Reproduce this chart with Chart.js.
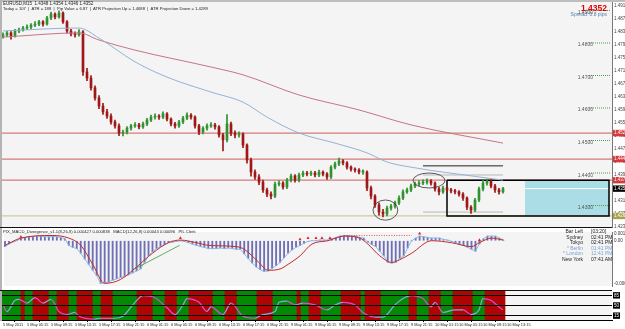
<!DOCTYPE html>
<html><head><meta charset="utf-8">
<script src="https://cdn.jsdelivr.net/npm/chart.js@4.4.1/dist/chart.umd.min.js"></script>
<style>
html,body{margin:0;padding:0;background:#fff;}
#wrap{position:relative;width:625px;height:329px;overflow:hidden;font-family:"Liberation Sans",Arial,sans-serif;}
canvas{position:absolute;left:0;}
.t{position:absolute;white-space:nowrap;line-height:1;color:#222;}
.bar{position:absolute;}
</style></head><body>
<div id="wrap">
<canvas id="cMain" width="625" height="233" style="top:0"></canvas>
<canvas id="cMacd" width="625" height="62" style="top:228px"></canvas>
<canvas id="cOsc" width="625" height="39" style="top:290px"></canvas>
<div class="bar" style="left:0;top:0;width:625px;height:2px;background:#bdbdbd"></div>
<div class="bar" style="left:0;top:0;width:2px;height:321px;background:#b4b4b4"></div>
<div class="bar" style="left:0;top:227px;width:612px;height:1px;background:#111"></div>
<div class="bar" style="left:0;top:290px;width:612px;height:1px;background:#111"></div>
<div class="t" style="left:3px;top:2px;font-size:4.5px">EURUSD,M15&nbsp; 1.4348 1.4354 1.4346 1.4352</div>
<div class="t" style="left:3px;top:6.5px;font-size:4.2px">Today = 107 &nbsp;|&nbsp; ATR = 188 &nbsp;|&nbsp; Pip Value = 6.87 &nbsp;|&nbsp; ATR Projection Up = 1.4688 &nbsp;|&nbsp; ATR Projection Down = 1.4289</div>
<div class="t" style="right:18px;top:4px;font-size:8.5px;font-weight:bold;color:#e00000">1.4352</div>
<div class="t" style="right:18px;top:11.5px;font-size:5px;color:#4f7fb0">Spread: 0.8 pips</div>
<div class="t" style="left:3px;top:229.5px;font-size:4.2px">PIX_MACD_Divergence_v1.1(8,26,9) 0.000427 0.000838 &nbsp; MACD(12,26,9) 0.00043 0.00096 &nbsp; PIL Clerk</div>
<div class="t" style="right:42px;top:229px;font-size:5px;text-align:right;line-height:5.5px">Bar Left<br>Sydney<br>Tokyo<br><span style="color:#7da3cf">* Berlin</span><br><span style="color:#7da3cf">* London</span><br>New York</div>
<div class="t" style="left:591px;top:229px;font-size:5px;line-height:5.5px">[03:20]<br>02:41 PM<br>02:41 PM<br><span style="color:#7da3cf">01:41 PM</span><br><span style="color:#7da3cf">12:41 PM</span><br>07:41 AM</div>
</div>
<script>
// ---------- data ----------
const timeLabels=["5 May 2011","5 May 05:15","5 May 09:15","5 May 13:15","5 May 17:15","5 May 21:15","6 May 01:15","6 May 05:15","6 May 09:15","6 May 13:15","6 May 17:15","6 May 21:15","9 May 01:15","9 May 05:15","9 May 09:15","9 May 13:15","9 May 17:15","9 May 21:15","10 May 01:15","10 May 05:15","10 May 09:15","10 May 13:15"];
const labelStep=6;
const openP=[1.4820,1.4825,1.4831,1.4822,1.4837,1.4840,1.4846,1.4849,1.4855,1.4858,
1.4865,1.4858,1.4877,1.4889,1.4880,1.4892,1.4865,1.4837,1.4828,1.4825,
1.4834,1.4711,1.4692,1.4662,1.4631,1.4606,1.4588,1.4575,1.4557,1.4545,
1.4523,1.4526,1.4538,1.4545,1.4548,1.4542,1.4551,1.4563,1.4572,1.4575,
1.4572,1.4582,1.4566,1.4551,1.4545,1.4557,1.4569,1.4578,1.4572,1.4545,
1.4526,1.4538,1.4545,1.4548,1.4542,1.4517,1.4502,1.4551,1.4523,1.4517,
1.4520,1.4486,1.4440,1.4403,1.4388,1.4372,1.4348,1.4335,1.4329,1.4366,
1.4369,1.4357,1.4378,1.4391,1.4378,1.4394,1.4400,1.4397,1.4400,1.4394,
1.4403,1.4397,1.4388,1.4418,1.4428,1.4437,1.4431,1.4418,1.4412,1.4409,
1.4403,1.4403,1.4354,1.4329,1.4302,1.4280,1.4274,1.4292,1.4298,1.4308,
1.4323,1.4342,1.4348,1.4360,1.4366,1.4369,1.4372,1.4375,1.4369,1.4351,
1.4342,1.4354,1.4348,1.4345,1.4342,1.4335,1.4323,1.4295,1.4286,1.4317,
1.4351,1.4369,1.4375,1.4360,1.4348,1.4342];
const highP=[1.4831,1.4836,1.4835,1.4842,1.4846,1.4851,1.4856,1.4860,1.4866,1.4870,
1.4869,1.4882,1.4895,1.4893,1.4899,1.4896,1.4869,1.4842,1.4834,1.4841,
1.4838,1.4722,1.4700,1.4668,1.4638,1.4614,1.4596,1.4582,1.4563,1.4551,
1.4532,1.4543,1.4550,1.4555,1.4553,1.4557,1.4568,1.4578,1.4582,1.4580,
1.4588,1.4586,1.4570,1.4556,1.4562,1.4574,1.4585,1.4583,1.4576,1.4550,
1.4543,1.4551,1.4555,1.4553,1.4546,1.4522,1.4580,1.4557,1.4530,1.4527,
1.4524,1.4490,1.4446,1.4410,1.4395,1.4378,1.4354,1.4342,1.4372,1.4376,
1.4374,1.4384,1.4397,1.4395,1.4400,1.4406,1.4405,1.4406,1.4405,1.4409,
1.4407,1.4401,1.4423,1.4434,1.4446,1.4441,1.4435,1.4422,1.4416,1.4414,
1.4410,1.4407,1.4360,1.4334,1.4308,1.4288,1.4298,1.4304,1.4314,1.4330,
1.4348,1.4354,1.4366,1.4372,1.4376,1.4379,1.4382,1.4380,1.4373,1.4356,
1.4360,1.4358,1.4353,1.4350,1.4346,1.4340,1.4327,1.4300,1.4322,1.4357,
1.4378,1.4381,1.4380,1.4365,1.4353,1.4356];
const lowP=[1.4815,1.4819,1.4812,1.4818,1.4832,1.4836,1.4841,1.4844,1.4850,1.4853,
1.4852,1.4855,1.4872,1.4874,1.4876,1.4860,1.4831,1.4822,1.4818,1.4821,
1.4700,1.4684,1.4655,1.4624,1.4598,1.4580,1.4568,1.4550,1.4538,1.4515,
1.4514,1.4520,1.4532,1.4540,1.4536,1.4537,1.4546,1.4558,1.4566,1.4565,
1.4567,1.4560,1.4545,1.4538,1.4540,1.4552,1.4564,1.4566,1.4538,1.4518,
1.4520,1.4532,1.4540,1.4535,1.4510,1.4468,1.4496,1.4515,1.4508,1.4510,
1.4478,1.4430,1.4390,1.4380,1.4364,1.4340,1.4327,1.4320,1.4324,1.4360,
1.4350,1.4352,1.4373,1.4372,1.4373,1.4389,1.4391,1.4392,1.4388,1.4389,
1.4391,1.4380,1.4383,1.4413,1.4423,1.4425,1.4412,1.4406,1.4403,1.4397,
1.4396,1.4346,1.4320,1.4294,1.4270,1.4265,1.4268,1.4286,1.4292,1.4303,
1.4318,1.4337,1.4343,1.4355,1.4361,1.4364,1.4366,1.4363,1.4344,1.4333,
1.4337,1.4342,1.4339,1.4336,1.4329,1.4316,1.4287,1.4276,1.4281,1.4312,
1.4345,1.4363,1.4354,1.4340,1.4335,1.4338];
const closeP=[1.4825,1.4831,1.4822,1.4837,1.4840,1.4846,1.4849,1.4855,1.4858,1.4865,
1.4858,1.4877,1.4889,1.4880,1.4892,1.4865,1.4837,1.4828,1.4825,1.4834,
1.4711,1.4692,1.4662,1.4631,1.4606,1.4588,1.4575,1.4557,1.4545,1.4523,
1.4526,1.4538,1.4545,1.4548,1.4542,1.4551,1.4563,1.4572,1.4575,1.4572,
1.4582,1.4566,1.4551,1.4545,1.4557,1.4569,1.4578,1.4572,1.4545,1.4526,
1.4538,1.4545,1.4548,1.4542,1.4517,1.4502,1.4551,1.4523,1.4517,1.4520,
1.4486,1.4440,1.4403,1.4388,1.4372,1.4348,1.4335,1.4329,1.4366,1.4369,
1.4357,1.4378,1.4391,1.4378,1.4394,1.4400,1.4397,1.4400,1.4394,1.4403,
1.4397,1.4388,1.4418,1.4428,1.4437,1.4431,1.4418,1.4412,1.4409,1.4403,
1.4403,1.4354,1.4329,1.4302,1.4280,1.4274,1.4292,1.4298,1.4308,1.4323,
1.4342,1.4348,1.4360,1.4366,1.4369,1.4372,1.4375,1.4369,1.4351,1.4342,
1.4354,1.4348,1.4345,1.4342,1.4335,1.4323,1.4295,1.4286,1.4317,1.4351,
1.4369,1.4375,1.4360,1.4348,1.4342,1.4352];
const maBlue=[[0,1.4837],[19,1.4846],[24,1.4815],[33,1.4742],[41,1.4695],[52,1.4649],[60,1.4618],[66,1.4572],[74,1.4523],[83,1.4492],[91,1.4462],[96,1.4434],[102,1.4418],[119,1.4388],[125,1.4378]];
const maRed=[[0,1.4818],[19,1.4831],[24,1.4809],[33,1.4778],[52,1.4726],[60,1.4702],[74,1.4640],[89,1.4594],[102,1.4548],[125,1.4492]];
const priceTicks=[1.4915,1.4875,1.4835,1.4795,1.4755,1.4715,1.4675,1.4635,1.4595,1.4555,1.4515,1.4475,1.4435,1.4395,1.4315,1.4275,1.4235];
const roundLevels=[1.4900,1.4800,1.4700,1.4600,1.4500,1.4400,1.4300];
const resistLevels=[1.4523,1.4443,1.4378];
const supportLevel=1.4268;
const lastPrice=1.4352;
const boxBars=[111,151.5], cyanStartBar=130.5;
const markLines=[{from:105,to:125,price:1.4422,dark:true},{from:105,to:125,price:1.4394,dark:false},{from:105,to:125,price:1.4280,dark:false}];
const ellipses=[{bar:95.6,price:1.4286,barRadius:3.1,priceRadius:0.0031},{bar:106.5,price:1.4377,barRadius:4,priceRadius:0.0023}];

const macdHist=[-0.0009,-0.0005,-0.0002,0.0000,0.0004,0.0005,0.0006,0.0006,0.0007,0.0007,
0.0006,0.0006,0.0007,0.0006,0.0005,0.0003,-0.0007,-0.0010,-0.0012,-0.0019,
-0.0028,-0.0036,-0.0045,-0.0053,-0.0065,-0.0064,-0.0063,-0.0060,-0.0058,-0.0056,
-0.0054,-0.0052,-0.0049,-0.0046,-0.0043,-0.0033,-0.0023,-0.0017,-0.0012,-0.0009,
-0.0006,-0.0003,-0.0002,-0.0001,0.0000,-0.0001,-0.0003,-0.0005,-0.0007,-0.0009,
-0.0010,-0.0012,-0.0012,-0.0012,-0.0011,-0.0012,-0.0011,-0.0012,-0.0013,-0.0013,
-0.0020,-0.0027,-0.0034,-0.0040,-0.0044,-0.0047,-0.0046,-0.0042,-0.0038,-0.0033,
-0.0026,-0.0019,-0.0014,-0.0010,-0.0007,-0.0004,-0.0001,0.0000,0.0000,0.0001,
0.0001,0.0001,0.0003,0.0005,0.0007,0.0008,0.0008,0.0007,0.0007,0.0005,
0.0004,-0.0002,-0.0006,-0.0009,-0.0016,-0.0023,-0.0033,-0.0034,-0.0033,-0.0027,
-0.0023,-0.0011,0.0000,0.0004,0.0007,0.0006,0.0005,0.0004,0.0004,0.0004,
0.0002,0.0001,-0.0001,-0.0003,-0.0005,-0.0007,-0.0010,-0.0013,-0.0016,-0.0005,
0.0003,0.0007,0.0007,0.0007,0.0004,0.0001];
const macdSignal=[[0,-0.0007],[4,0.0004],[12,0.0008],[16,0.0004],[19,-0.0007],[22,-0.0036],[25,-0.0065],[29,-0.0059],[33,-0.0040],[37,-0.0019],[41,-0.0003],[44,0.0001],[48,-0.0003],[51,-0.0007],[58,-0.0009],[60,-0.0013],[63.5,-0.0032],[66,-0.0045],[69,-0.0043],[71,-0.0036],[74,-0.0023],[77,-0.0005],[81,0.0000],[85,0.0007],[89,0.0004],[91,-0.0005],[94,-0.0023],[97,-0.0033],[99,-0.0029],[102,-0.0019],[107,0.0000],[112,-0.0003],[117,-0.0009],[119,-0.0003],[122,0.0004],[125,0.0001]];
const macdArrows=[[4,0.0006],[44,0.0004],[74,0.0002],[76,0.0004],[78,0.0004],[79.5,0.0004],[81.5,0.0004],[104,0.0011],[119,0.0001]];
const divergenceLine=[[32.5,-0.0043],[43.8,-0.0007]];
const divergenceLevel=[[85,0.0008],[102,0.0008]];
const macdTicks=[0.0011,0,-0.0065];

const bandState=[1,1,1,1,1, 0, 1,1, 0,0,0,0, 1,1, 0,0,0, 1,1, 0,0,0,0, 1,1, 0,0,0,
1,1,1,1,1,1, 0,0,0,0, 1,1,1, 0,0,0, 1,1,1, 0,0,0,0,0,0, 1,1,1, 0,0,0, 1,1,1,1,1,
0,0,0,0, 1,1,1,1,1,1, 0, 1,1, 0,0,0, 1,1,1,1,1, 0,0,0,0,0, 1, 0,0,0,0,
1,1,1,1,1,1,1, 0,0, 1,1,1, 0,0,0, 1,1,1, 0,0,0,0,0, 1,1,1, 0,0,0,0,0];
const oscPoints=[[0,52],[1,29],[3,68],[4,71],[6,58],[8,77],[10,58],[12,71],[14,29],[16,19],[18,26],[19,13],[23,3],[24,6],[28,6],[30,13],[33,61],[35,84],[38,77],[41,42],[43,19],[45,52],[46,74],[49,61],[51,30],[52,45],[55,19],[57,58],[60,13],[63,6],[65,19],[68,29],[69,61],[71,65],[73,52],[75,58],[78,52],[81,35],[83,52],[85,61],[88,52],[90,26],[93,10],[95,10],[98,52],[100,74],[102,84],[105,74],[107,45],[108,61],[110,26],[113,35],[115,35],[117,19],[119,35],[120,74],[122,68],[124,45],[125,35]];
const oscLevels=[85,50,15];

// ---------- helpers ----------
const xMin=-0.25, xMax=152.25;
const BULL='#2f922f', BEAR='#9e1818';
const bars=closeP.map((_,i)=>i);
const pts=a=>a.map(p=>({x:p[0],y:p[1]}));
function mkLine(p,color,w,extra){return Object.assign({type:'line',data:pts(p),borderColor:color,borderWidth:w,pointRadius:0,fill:false,tension:0},extra||{});}
function fixW(s){s.width=13;s.paddingTop=0;s.paddingBottom=0;}
const bgPlugin={id:'bg',beforeDraw(ch){const {ctx,chartArea:a}=ch;ctx.save();ctx.fillStyle='#f4f4f4';ctx.fillRect(a.left,a.top,a.right-a.left,a.bottom-a.top);ctx.restore();}};
const ellipsePlugin={id:'ell',afterDatasetsDraw(ch){const {ctx,scales:{x,y}}=ch;ctx.save();ctx.strokeStyle='#333';ctx.lineWidth=0.8;
 ellipses.forEach(e=>{const cx=x.getPixelForValue(e.bar),cy=y.getPixelForValue(e.price);const rx=Math.abs(x.getPixelForValue(e.bar+e.barRadius)-cx);const ry=Math.abs(y.getPixelForValue(e.price+e.priceRadius)-cy);ctx.beginPath();ctx.ellipse(cx,cy,rx,ry,0,0,Math.PI*2);ctx.stroke();});ctx.restore();}};
function levelColor(v){if(resistLevels.includes(v))return '#d43a3a';if(v===lastPrice)return '#000000';if(v===supportLevel)return '#a8a24c';return null;}
const candleColor=c=>closeP[c.dataIndex]>=openP[c.dataIndex]?BULL:BEAR;
const common={responsive:false,animation:false,devicePixelRatio:1,events:[],plugins:{legend:{display:false},tooltip:{enabled:false}}};

// ---------- main price chart ----------
const mainSets=[
 {type:'bar',data:bars.map(i=>({x:i,y:[lowP[i],highP[i]]})),backgroundColor:candleColor,barThickness:1,grouped:false,order:2},
 {type:'bar',data:bars.map(i=>({x:i,y:[openP[i],closeP[i]]})),backgroundColor:candleColor,barThickness:2,minBarLength:1,grouped:false,order:1},
 mkLine(maBlue,'#93b4d6',1,{cubicInterpolationMode:'monotone',order:0}),
 mkLine(maRed,'#c77585',1,{cubicInterpolationMode:'monotone',order:0}),
 ...resistLevels.map(v=>mkLine([[xMin,v],[xMax,v]],'#d67a7a',1.2,{order:6})),
 mkLine([[xMin,supportLevel],[xMax,supportLevel]],'#cfcc9a',1.3,{order:6}),
 mkLine([[cyanStartBar,resistLevels[2]],[boxBars[1],resistLevels[2]]],'rgba(0,0,0,0)',0,{fill:{value:supportLevel},backgroundColor:'#aadde5',order:9}),
 mkLine([[cyanStartBar,lastPrice],[boxBars[1],lastPrice]],'#ffffff',1,{order:8}),
 mkLine([[boxBars[0],resistLevels[2]],[boxBars[1],resistLevels[2]],[boxBars[1],supportLevel],[boxBars[0],supportLevel],[boxBars[0],resistLevels[2]]],'#000000',1.5,{order:3}),
 ...markLines.map(m=>mkLine([[m.from,m.price],[m.to,m.price]],m.dark?'#222222':'#b8b8b8',1,{order:5})),
 ...roundLevels.map(v=>mkLine([[146.5,v],[151.9,v]],'#4f9f4f',1,{borderDash:[1,1],order:5}))
];
const chartA=new Chart(document.getElementById('cMain'),{type:'bar',data:{datasets:mainSets},plugins:[bgPlugin,ellipsePlugin],
 options:Object.assign({},common,{layout:{padding:{left:2,top:2,right:0,bottom:6}},
 scales:{x:{type:'linear',min:xMin,max:xMax,display:false,offset:false},
  y:{position:'right',min:1.4234,max:1.4926,afterFit:fixW,
   afterBuildTicks:s=>{s.ticks=priceTicks.concat(resistLevels,[lastPrice,supportLevel]).map(v=>({value:v}));},
   ticks:{autoSkip:false,padding:1,font:{size:4.5,family:'Liberation Sans'},callback:v=>Number(v).toFixed(4),
    color:c=>levelColor(c.tick&&c.tick.value)?'#ffffff':'#444',showLabelBackdrop:true,
    backdropColor:c=>levelColor(c.tick&&c.tick.value)||'rgba(0,0,0,0)',backdropPadding:{top:0.5,bottom:0.5,left:1,right:1}},
   grid:{drawOnChartArea:false,tickLength:1,color:'#777'},border:{color:'#777'}}}})});
const wrap=document.getElementById('wrap');
roundLevels.forEach(v=>{const d=document.createElement('div');d.className='t';d.style.fontSize='5px';d.style.color='#555';d.textContent=v.toFixed(4);d.style.top=(chartA.scales.y.getPixelForValue(v)-0.5)+'px';d.style.right=(625-593)+'px';wrap.appendChild(d);});

// ---------- MACD chart ----------
new Chart(document.getElementById('cMacd'),{type:'bar',plugins:[bgPlugin],data:{datasets:[
 {type:'bar',data:bars.map(i=>({x:i,y:macdHist[i]})),backgroundColor:'#6f6fb6',barThickness:1.2,order:3},
 mkLine(bars.map(i=>[i,macdHist[i]]),'#8db9e6',1,{order:2}),
 mkLine(macdSignal,'#c42a2a',1,{cubicInterpolationMode:'monotone',order:1}),
 mkLine(divergenceLine,'#3a9a3a',0.8,{order:0}),
 mkLine(divergenceLevel,'#d03030',0.8,{borderDash:[1,1.5],order:0}),
 {type:'line',data:pts(macdArrows),showLine:false,pointStyle:'triangle',pointRadius:1.8,pointBackgroundColor:'#e02020',pointBorderWidth:0,order:0}
]},options:Object.assign({},common,{layout:{padding:{left:2,top:0,right:0,bottom:0}},
 scales:{x:{type:'linear',min:xMin,max:xMax,display:false,offset:false},
  y:{position:'right',min:-0.0069,max:0.00133,afterFit:fixW,
   afterBuildTicks:s=>{s.ticks=macdTicks.map(v=>({value:v}));},
   ticks:{autoSkip:false,padding:1,font:{size:4.5,family:'Liberation Sans'},color:'#333',callback:v=>v===0?'0.00':Number(v).toFixed(4)},
   grid:{drawOnChartArea:false,tickLength:1,color:'#777'},border:{color:'#777'}}}})});

// ---------- oscillator chart ----------
new Chart(document.getElementById('cOsc'),{type:'bar',plugins:[bgPlugin],data:{datasets:[
 {type:'bar',data:bars.map(i=>({x:i,y:[0,100]})),backgroundColor:c=>bandState[c.dataIndex]?'#058a05':'#b00505',barPercentage:1,categoryPercentage:1,order:2},
 mkLine(oscPoints,'#d24fd2',1.2,{cubicInterpolationMode:'monotone',segment:{borderColor:c=>c.p1.parsed.y>=c.p0.parsed.y?'#84a9e8':'#d24fd2'},order:0})
]},options:Object.assign({},common,{layout:{padding:{left:2,top:1,right:0,bottom:0}},
 scales:{x:{type:'linear',min:xMin,max:xMax,offset:false,
   afterFit:s=>{s.height=9;s.paddingLeft=0;s.paddingRight=0;},
   afterBuildTicks:s=>{s.ticks=timeLabels.map((_,k)=>({value:k*labelStep}));},
   ticks:{autoSkip:false,maxRotation:0,minRotation:0,align:'start',padding:1,font:{size:3.9,family:'Liberation Sans'},color:'#222',callback:(v,i)=>timeLabels[i]},
   grid:{drawOnChartArea:false,tickLength:2,color:'#000'},border:{color:'#000'}},
  y:{position:'right',min:0,max:100,afterFit:fixW,
   afterBuildTicks:s=>{s.ticks=oscLevels.map(v=>({value:v}));},
   ticks:{autoSkip:false,padding:1,font:{size:4.5,family:'Liberation Sans'},color:'#fff',showLabelBackdrop:true,backdropColor:'#000',backdropPadding:{top:0.5,bottom:0.5,left:1,right:1}},
   grid:{drawOnChartArea:true,z:1,color:'#000',lineWidth:1,tickLength:1},border:{color:'#777'}}}})});
</script>
</body></html>
